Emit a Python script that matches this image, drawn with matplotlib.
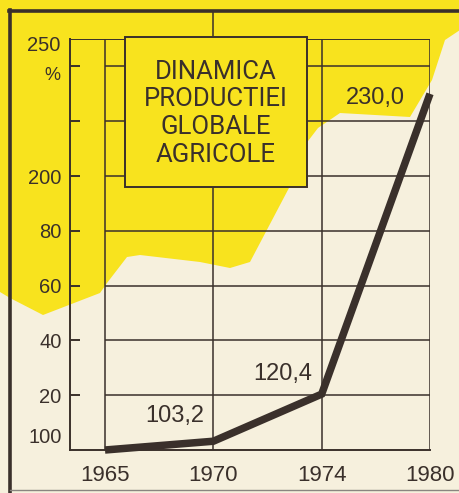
import matplotlib
matplotlib.use("Agg")
import matplotlib.pyplot as plt
from matplotlib.patches import Polygon, Rectangle
from matplotlib.lines import Line2D

# ---- data ----
years = ["1965", "1970", "1974", "1980"]
values = [100.0, 103.2, 120.4, 230.0]
value_labels = ["", "103,2", "120,4", "230,0"]
ytick_values = [120, 140, 160, 180, 200, 220, 240]
ytick_labels = ["20", "40", "60", "80", "200", "", ""]
title_lines = ["DINAMICA", "PRODUCTIEI", "GLOBALE", "AGRICOLE"]

YELLOW = "#F8E31E"
CREAM = "#F6F0DD"
INK = "#3A302B"
W, H = 460, 493

fig = plt.figure(figsize=(W / 100, H / 100), dpi=100, facecolor=CREAM)

def px(x, y):
    return (x / W, 1 - y / H)

# yellow background shape (decoration)
shape = [(0, 0), (460, 0), (460, 30), (445, 40), (432, 80), (410, 117), (340, 113),
         (318, 128), (305, 145), (300, 167), (250, 262), (230, 268), (200, 262),
         (140, 255), (127, 257), (107, 283), (100, 293), (43, 315), (10, 298), (0, 292)]
fig.patches.append(Polygon([px(*p) for p in shape], closed=True, transform=fig.transFigure,
                           facecolor=YELLOW, edgecolor="none", zorder=-10))

# outer frame
fig.lines.append(Line2D([px(10, 0)[0], px(10, 0)[0]], [px(0, 10)[1], 0], transform=fig.transFigure,
                        color=INK, lw=2.6, zorder=-5))
fig.lines.append(Line2D([px(9, 0)[0], 1], [px(0, 11)[1]] * 2, transform=fig.transFigure,
                        color=INK, lw=2.6, zorder=-5))
fig.lines.append(Line2D([px(10, 0)[0], 1], [px(0, 490)[1]] * 2, transform=fig.transFigure,
                        color="#8a8580", lw=1.0, zorder=-5))

# axes: left spine at x=70px, 1965 at 105px, 1980 at 430px; y 100 at 450px, 250 at 39px
left, right, bottom, top = 70, 430, 450, 39
ax = fig.add_axes([left / W, 1 - bottom / H, (right - left) / W, (bottom - top) / H])
ax.set_zorder(1)
ax.set_facecolor("none")
x = list(range(len(years)))
step = (430 - 105) / 3
ax.set_xlim(-(105 - 70) / step, 3)
ax.set_ylim(100, 250)

for s in ["top", "right"]:
    ax.spines[s].set_visible(False)
for s in ["left", "bottom"]:
    ax.spines[s].set_color(INK)
    ax.spines[s].set_linewidth(1.4)

lbl_font = dict(family=["Liberation Sans", "DejaVu Sans"])
ax.set_yticks(ytick_values)
ax.set_yticklabels(ytick_labels, fontsize=14.5, color=INK, **lbl_font)
ax.tick_params(axis="y", direction="in", length=7, width=1.4, color=INK, pad=6)
ax.set_xticks(x)
ax.set_xticklabels(years, fontsize=16, color=INK, **lbl_font)
ax.tick_params(axis="x", length=0, pad=11)

# grid
ax.hlines(ytick_values, 0, 3, color=INK, lw=1.1, zorder=1)
ax.hlines([250], ax.get_xlim()[0], 3, color=INK, lw=1.4, zorder=1)
ax.vlines(x, 100, 250, color=INK, lw=1.1, zorder=1)
ax.vlines([1], 250, 260.6, color=INK, lw=1.1, zorder=1, clip_on=False)

# extra y labels
ax.text(-0.40, 104.6, "100", ha="right", va="center", fontsize=14.5, color=INK, **lbl_font)
ax.text(-0.41, 247.8, "250", ha="right", va="center", fontsize=14.5, color=INK, **lbl_font)
ax.text(-0.41, 236.5, "%", ha="right", va="center", fontsize=13, color=INK, **lbl_font)

# title box
bx0, bx1 = (125 - 105) / step, (307 - 105) / step
by0, by1 = 100 + (450 - 187) / 2.74, 100 + (450 - 37) / 2.74
ax.add_patch(Rectangle((bx0, by0), bx1 - bx0, by1 - by0, facecolor=YELLOW, edgecolor=INK,
                       lw=1.4, zorder=3, clip_on=False))
ax.text((bx0 + bx1) / 2, (by0 + by1) / 2 - 0.5, "\n".join(title_lines), ha="center", va="center",
        fontsize=18.5, color=INK, linespacing=1.2, zorder=4,
        family=["Roboto", "DejaVu Sans"])

# data line
ax.plot(x, values, color=INK, lw=5.4, solid_capstyle="butt", solid_joinstyle="miter",
        zorder=5, clip_on=False)

offsets = [(0, 0), (-39, 25), (-39, 20), (-55, -4)]
for xi, v, lab, off in zip(x, values, value_labels, offsets):
    if lab:
        ax.annotate(lab, (xi, v), xytext=off, textcoords="offset pixels", ha="center",
                    va="center", fontsize=17, color=INK, zorder=6, **lbl_font)

fig.savefig("out.png", dpi=100, facecolor=CREAM)
